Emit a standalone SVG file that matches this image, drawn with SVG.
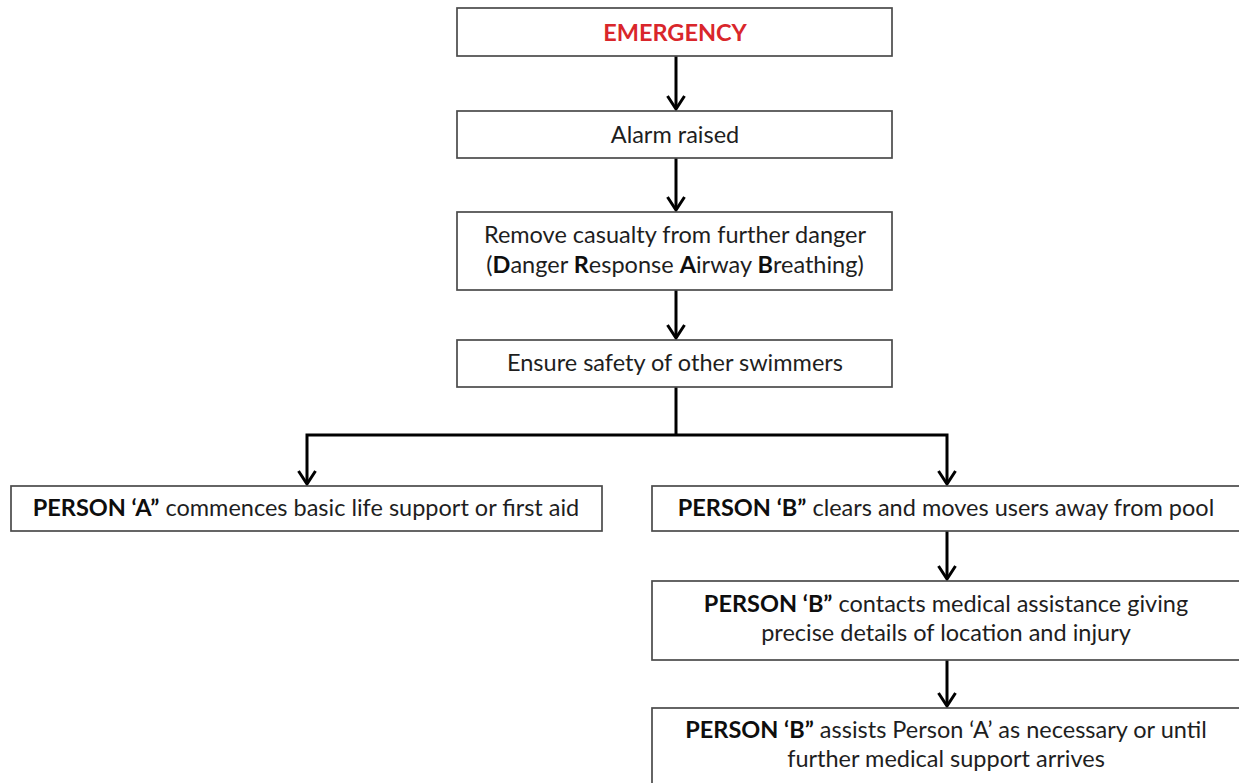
<svg xmlns="http://www.w3.org/2000/svg" width="1239" height="783" viewBox="0 0 1239 783">
  <style>
    .box { fill: #ffffff; stroke: #4a4a4a; stroke-width: 1.7; }
    .t { font-family: Lato, "Liberation Sans", sans-serif; font-size: 23.5px; fill: #1e1e1e; text-anchor: middle; }
    .b { font-weight: bold; fill: #0e0e0e; }
    .red { font-weight: bold; fill: #d9262b; }
    .conn { fill: none; stroke: #000000; stroke-width: 3; }
  </style>
  <defs>
    <marker id="chev" markerUnits="userSpaceOnUse" orient="auto" refX="0" refY="0" markerWidth="20" markerHeight="20" overflow="visible">
      <path d="M -13 -8.5 L 0 0 L -13 8.5" fill="none" stroke="#000000" stroke-width="3" stroke-linejoin="miter"/>
    </marker>
  </defs>
  <rect width="1239" height="783" fill="#ffffff"/>

  <g id="connectors">
    <path class="conn" d="M 676 56 L 676 109" marker-end="url(#chev)"/>
    <path class="conn" d="M 676 158 L 676 210" marker-end="url(#chev)"/>
    <path class="conn" d="M 676 290 L 676 338" marker-end="url(#chev)"/>
    <path class="conn" d="M 676 387 L 676 435"/>
    <path class="conn" d="M 676 435 L 307 435 L 307 484" marker-end="url(#chev)"/>
    <path class="conn" d="M 676 435 L 947 435 L 947 484" marker-end="url(#chev)"/>
    <path class="conn" d="M 947 531 L 947 579" marker-end="url(#chev)"/>
    <path class="conn" d="M 947 660 L 947 706" marker-end="url(#chev)"/>
  </g>

  <g id="emergency">
    <rect class="box" x="457" y="8" width="435" height="48"/>
    <text class="t red" x="675" y="41">EMERGENCY</text>
  </g>

  <g id="alarm">
    <rect class="box" x="457" y="111" width="435" height="47"/>
    <text class="t" x="675" y="143">Alarm raised</text>
  </g>

  <g id="remove">
    <rect class="box" x="457" y="212" width="435" height="78"/>
    <text class="t" x="675" y="243">Remove casualty from further danger</text>
    <text class="t" x="675" y="273">(<tspan class="b">D</tspan>anger <tspan class="b">R</tspan>esponse <tspan class="b">A</tspan>irway <tspan class="b">B</tspan>reathing)</text>
  </g>

  <g id="ensure">
    <rect class="box" x="457" y="340" width="435" height="47"/>
    <text class="t" x="675" y="371">Ensure safety of other swimmers</text>
  </g>

  <g id="personA">
    <rect class="box" x="11" y="486" width="591" height="45"/>
    <text class="t" x="306" y="516"><tspan class="b">PERSON ‘A”</tspan> commences basic life support or first aid</text>
  </g>

  <g id="personB1">
    <rect class="box" x="652" y="486" width="600" height="45"/>
    <text class="t" x="946" y="516"><tspan class="b">PERSON ‘B”</tspan> clears and moves users away from pool</text>
  </g>

  <g id="personB2">
    <rect class="box" x="652" y="581" width="600" height="79"/>
    <text class="t" x="946" y="612"><tspan class="b">PERSON ‘B”</tspan> contacts medical assistance giving</text>
    <text class="t" x="946" y="641">precise details of location and injury</text>
  </g>

  <g id="personB3">
    <rect class="box" x="652" y="708" width="600" height="80"/>
    <text class="t" x="946" y="738"><tspan class="b">PERSON ‘B”</tspan> assists Person ‘A’ as necessary or until</text>
    <text class="t" x="946" y="767">further medical support arrives</text>
  </g>
</svg>
